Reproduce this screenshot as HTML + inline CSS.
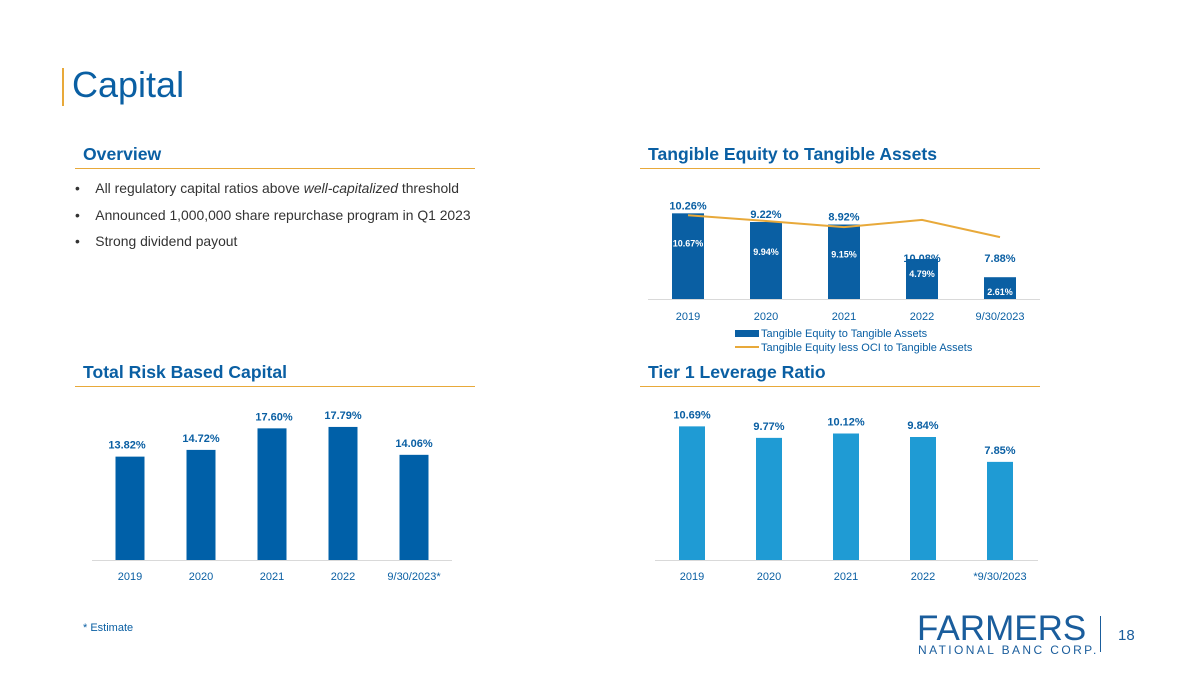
<!DOCTYPE html>
<html><head><meta charset="utf-8"><style>
body{margin:0;width:1200px;height:675px;background:#fff;font-family:"Liberation Sans",sans-serif;position:relative;overflow:hidden}
.a{position:absolute}
.h{color:#0a5fa3;font-weight:bold;font-size:17.6px}
.rule{position:absolute;height:1px;background:#e8a93a}
.bul{position:absolute;left:75px;font-size:13.9px;color:#333}
svg text{font-family:"Liberation Sans",sans-serif}
</style></head><body>
<div class="a" style="left:62px;top:68px;width:2px;height:38px;background:#e8a93a"></div>
<div class="a" style="left:72px;top:64px;font-size:36px;color:#0a5fa3">Capital</div>

<div class="a h" style="left:83px;top:144px">Overview</div>
<div class="rule" style="left:75px;top:168px;width:400px"></div>
<div class="bul" style="top:180px">•&nbsp;&nbsp;&nbsp;&nbsp;All regulatory capital ratios above <i>well-capitalized</i> threshold</div>
<div class="bul" style="top:207px">•&nbsp;&nbsp;&nbsp;&nbsp;Announced 1,000,000 share repurchase program in Q1 2023</div>
<div class="bul" style="top:233px">•&nbsp;&nbsp;&nbsp;&nbsp;Strong dividend payout</div>

<div class="a h" style="left:648px;top:144px">Tangible Equity to Tangible Assets</div>
<div class="rule" style="left:640px;top:168px;width:400px"></div>
<div class="a h" style="left:83px;top:362px">Total Risk Based Capital</div>
<div class="rule" style="left:75px;top:386px;width:400px"></div>
<div class="a h" style="left:648px;top:362px">Tier 1 Leverage Ratio</div>
<div class="rule" style="left:640px;top:386px;width:400px"></div>

<svg id="s" class="a" style="left:0;top:0" width="1200" height="675"></svg>

<div class="a" style="left:83px;top:622px;font-size:11px;color:#0a5fa3">* Estimate</div>
<div class="a" style="left:917px;top:610px;font-size:35px;color:#1a5d9c;letter-spacing:0px;line-height:38px">FARMERS</div>
<div class="a" style="left:918px;top:643px;font-size:12px;color:#1a5d9c;letter-spacing:2.4px">NATIONAL BANC CORP.</div>
<div class="a" style="left:1100px;top:616px;width:1px;height:36px;background:#1a5d9c"></div>
<div class="a" style="left:1118px;top:627px;font-size:15px;color:#1a5d9c">18</div>

<script>
const teCats=["2019","2020","2021","2022","9/30/2023"];
const teBars=[10.26,9.22,8.92,4.79,2.61];
const teLine=[10.67,9.94,9.15,10.08,7.88];
const teTop=["10.26%","9.22%","8.92%","10.08%","7.88%"];
const teIn=["10.67%","9.94%","9.15%","4.79%","2.61%"];
const rbCats=["2019","2020","2021","2022","9/30/2023*"];
const rbVals=[13.82,14.72,17.60,17.79,14.06];
const t1Cats=["2019","2020","2021","2022","*9/30/2023"];
const t1Vals=[10.69,9.77,10.12,9.84,7.85];
const s=document.getElementById('s');
function el(t,a,txt){const e=document.createElementNS('http://www.w3.org/2000/svg',t);for(const k in a)e.setAttribute(k,a[k]);if(txt!=null)e.textContent=txt;s.appendChild(e);return e;}
function tx(x,y,str,sz,col,bold){return el('text',{x:x,y:y,'text-anchor':'middle','font-size':sz,fill:col,'font-weight':bold?'bold':'normal'},str);}
// TE chart
const teX=i=>688+i*78, teY=v=>299-v*8.35, lnY=v=>299-v*7.85;
el('line',{x1:648,x2:1040,y1:299.5,y2:299.5,stroke:'#d9d9d9'});
teBars.forEach((v,i)=>{const r=el('rect',{x:teX(i)-16,y:teY(v),width:32,height:299-teY(v),fill:'#0a5fa3'});


tx(teX(i),i<3?teY(v)-4:teY(v)+(i==3?3:-15),teTop[i],11,'#0a5fa3',true);
tx(teX(i),i<3?teY(v)+33:teY(v)+18,teIn[i],9,'#fff',true);
tx(teX(i),320,teCats[i],11,'#0a5fa3');});
const p=el('polyline',{points:teLine.map((v,i)=>teX(i)+','+lnY(v)).join(' '),fill:'none',stroke:'#e8a93a','stroke-width':2});


el('rect',{x:735,y:330,width:24,height:7,fill:'#0a5fa3'});
el('text',{x:761,y:337,'font-size':11,fill:'#0a5fa3'},'Tangible Equity to Tangible Assets');
el('line',{x1:735,x2:759,y1:347,y2:347,stroke:'#e8a93a','stroke-width':2});
el('text',{x:761,y:351,'font-size':11,fill:'#0a5fa3'},'Tangible Equity less OCI to Tangible Assets');
// RBC
const rbX=i=>130+i*71, rbY=v=>560-v*7.48;
el('line',{x1:92,x2:452,y1:560.5,y2:560.5,stroke:'#d9d9d9'});
rbVals.forEach((v,i)=>{const r=el('rect',{x:rbX(i)-14.5,y:rbY(v),width:29,height:560-rbY(v),fill:'#0060a8'});


tx(rbX(i)+(i==0?-3:i==2?2:0),rbY(v)-8,v.toFixed(2)+'%',11,'#0a5fa3',true);
tx(rbX(i),580,rbCats[i],11,'#0a5fa3');});
// Tier1
const t1X=i=>692+i*77, t1Y=v=>560-v*12.5;
el('line',{x1:655,x2:1038,y1:560.5,y2:560.5,stroke:'#d9d9d9'});
t1Vals.forEach((v,i)=>{const r=el('rect',{x:t1X(i)-13,y:t1Y(v),width:26,height:560-t1Y(v),fill:'#1f9bd4'});


tx(t1X(i),t1Y(v)-8,v.toFixed(2)+'%',11,'#0a5fa3',true);
tx(t1X(i),580,t1Cats[i],11,'#0a5fa3');});
</script>
</body></html>
